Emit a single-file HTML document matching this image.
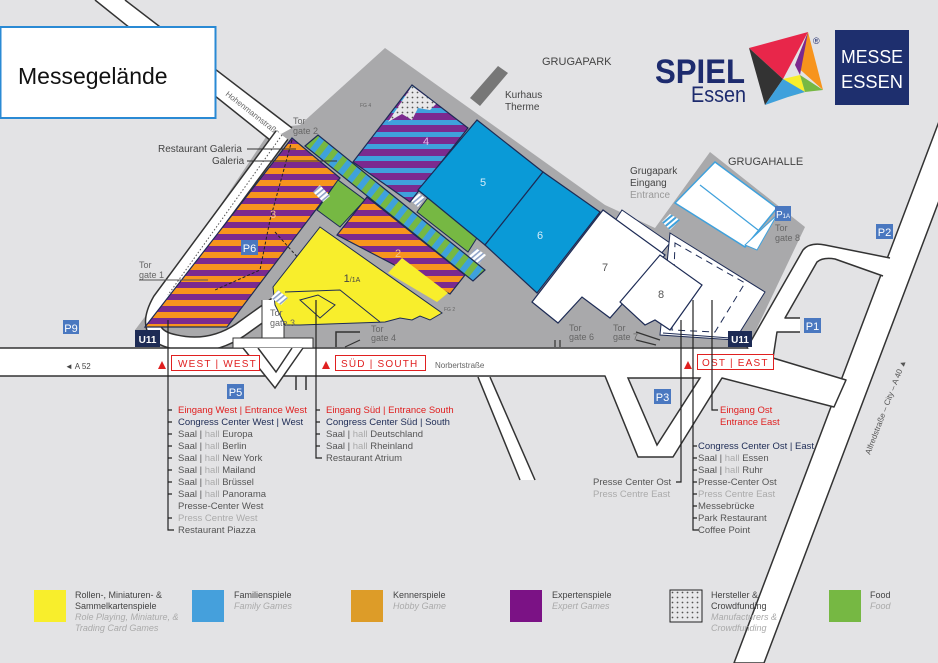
<!DOCTYPE html>
<html><head><meta charset="utf-8"><style>
html,body{margin:0;padding:0;background:#e3e3e5;}
svg{display:block;font-family:"Liberation Sans",sans-serif;}
</style></head><body>
<svg width="938" height="663" viewBox="0 0 938 663" xmlns="http://www.w3.org/2000/svg">
<defs>
<pattern id="op" width="10" height="12" patternUnits="userSpaceOnUse"><rect width="10" height="12" fill="#7b2a8f"/><rect width="10" height="6" fill="#f7941d"/></pattern>
<pattern id="pb" width="10" height="12" patternUnits="userSpaceOnUse"><rect width="10" height="12" fill="#7b2a8f"/><rect width="10" height="5" fill="#3fa1dc"/></pattern>
<pattern id="bg" width="10" height="12" patternUnits="userSpaceOnUse" patternTransform="rotate(-52)"><rect width="10" height="12" fill="#76b843"/><rect width="10" height="6" fill="#3fa1dc"/></pattern>
<pattern id="hatch" width="4" height="4" patternUnits="userSpaceOnUse" patternTransform="rotate(-40)"><rect width="4" height="4" fill="#fff"/><rect width="4" height="1.6" fill="#8fa3c8"/></pattern>
<pattern id="hatchb" width="4" height="4" patternUnits="userSpaceOnUse" patternTransform="rotate(-40)"><rect width="4" height="4" fill="#fff"/><rect width="4" height="2" fill="#3fa1dc"/></pattern>
<pattern id="dots" width="5" height="5" patternUnits="userSpaceOnUse"><rect width="5" height="5" fill="#e8e8ea"/><circle cx="2.5" cy="2.5" r="0.9" fill="#555"/></pattern>
</defs>
<rect width="938" height="663" fill="#e3e3e5"/>

<!-- gray site -->
<polygon points="272,128 300,125 385,48 605,205 655,228 710,152 805,227 748,347 135,347 135,330 150,310" fill="#a9a9ab"/>

<!-- Hohenmannstrasse -->
<polygon points="95,0 125,0 292,128 270,140" fill="#fff"/>
<line x1="95" y1="0" x2="270" y2="140" stroke="#333" stroke-width="1.5"/>
<line x1="125" y1="0" x2="292" y2="128" stroke="#333" stroke-width="1.5"/>
<text x="225" y="95" font-size="8" fill="#666" transform="rotate(38 225 95)">Hohenmannstraße</text>

<!-- loop road left of hall 3 -->
<path d="M282,135 L160,300 Q140,335 175,342 Q210,350 240,330 L282,300" fill="none" stroke="#333" stroke-width="16"/>
<path d="M282,135 L160,300 Q140,335 175,342 Q210,350 240,330 L282,300" fill="none" stroke="#fff" stroke-width="13"/>
<path d="M282,135 L168,295" fill="none" stroke="#555" stroke-width="1" stroke-dasharray="1.5,2"/>
<rect x="262" y="300" width="22" height="50" fill="#fff"/>
<line x1="262" y1="300" x2="262" y2="338" stroke="#333"/><line x1="284" y1="300" x2="284" y2="338" stroke="#333"/>

<!-- title box -->
<rect x="0.5" y="27" width="215" height="91" fill="#fff" stroke="#2a8ad4" stroke-width="2"/>
<text x="18" y="84" font-size="23" fill="#111">Messegelände</text>

<!-- halls -->
<polygon points="292,138 340,178 227,327 145,327" fill="url(#op)" stroke="#1d2b55" stroke-width="1.2"/>
<path d="M292,140 L270,220 L260,270 L215,290 M275,232 L300,260 L310,280 L285,300" fill="none" stroke="#222" stroke-width="1" stroke-dasharray="3,2"/>
<polygon points="305,146 318,135 485,270 473,281" fill="url(#bg)" stroke="#1d2b55" stroke-width="1.2"/>
<polygon points="317,210 338,180 365,200 340,227" fill="#76b843" stroke="#1d2b55"/>
<polygon points="417,212 430,195 480,233 468,252" fill="#76b843" stroke="#1d2b55"/>
<polygon points="337,235 367,197 465,275 450,294" fill="url(#op)" stroke="#1d2b55" stroke-width="1.2"/>
<polygon points="273,287 320,227 442,313 430,320 420,316 412,320 400,318 385,322 300,325 285,325 275,305" fill="#f8ee2c" stroke="#1d2b55" stroke-width="1"/>
<polygon points="388,273 402,258 448,293 437,302" fill="#f8ee2c"/>
<path d="M285,292 L340,290 L380,322 M300,300 L318,295 L335,305 L320,318 Z" fill="none" stroke="#1d2b55" stroke-width="1"/>
<polygon points="313,192 320,185 330,196 323,202" fill="url(#hatch)"/>
<polygon points="271,298 278,290 288,298 281,305" fill="url(#hatch)"/>
<polygon points="410,200 417,192 425,198 418,207" fill="url(#hatch)"/>
<polygon points="469,256 476,248 486,255 479,264" fill="url(#hatch)"/>
<polygon points="353,162 412,85 468,128 410,202" fill="url(#pb)" stroke="#1d2b55" stroke-width="1.2"/>
<polygon points="388,122 412,86 436,104 430,110 418,108 412,120 402,114" fill="url(#dots)"/>
<polygon points="418,190 477,120 543,172 485,245" fill="#0a9ad7" stroke="#1d2b55" stroke-width="1.2"/>
<polygon points="485,245 543,172 600,212 537,293" fill="#0a9ad7" stroke="#1d2b55" stroke-width="1.2"/>
<polygon points="622,210 670,243 660,255 613,224" fill="#fff" stroke="#1d2b55"/>
<polygon points="532,302 603,210 665,255 610,318 582,297 558,323" fill="#fff" stroke="#1d2b55" stroke-width="1.2"/>
<polygon points="670,233 765,292 735,340 660,335" fill="#fff" stroke="#1d2b55"/>
<polygon points="675,243 745,283 715,332 672,330" fill="none" stroke="#1d2b55" stroke-dasharray="7,5"/>
<polygon points="620,302 660,255 702,285 670,330 655,320 645,325" fill="#fff" stroke="#1d2b55" stroke-width="1.2"/>

<!-- grugahalle -->
<polygon points="675,203 700,182 745,247 720,230" fill="#fff"/>
<polygon points="675,203 715,162 777,208 745,247" fill="#fff" stroke="#3fa1dc" stroke-width="1.5"/>
<line x1="700" y1="185" x2="758" y2="230" stroke="#3fa1dc" stroke-width="1.2"/>
<polygon points="763,228 777,215 757,250 745,245" fill="#fff" stroke="#3fa1dc"/>
<polygon points="662,222 670,214 680,220 670,230" fill="url(#hatchb)"/>
<polygon points="470,98 498,66 508,73 480,106" fill="#777"/>

<!-- streets -->
<g stroke="#333" stroke-width="1.5" stroke-linejoin="round">
<!-- Alfredstrasse -->
<polygon points="985,0 1015,0 764,663 734,663" fill="#fff"/>
<!-- main street -->
<polygon points="-2,348 747,348 773,358 846,380 834,407 722,378 673,457 638,457 605,376 -2,376" fill="#fff"/>
<!-- NE road -->
<path d="M747,348 L803,250 Q810,242 825,245 L890,258 L883,276 L835,259 Q823,257 817,262 L785,318 L800,318 L800,332 L777,332 L773,358 Z" fill="#fff" stroke="none"/>
<path d="M747,348 L803,250 Q810,242 825,245 L890,258" fill="none"/>
<path d="M883,276 L835,259 Q823,257 817,262 L785,318 L800,318 M800,332 L777,332 L773,358" fill="none"/>
</g>
<rect x="700" y="349" width="70" height="26" fill="#fff"/>
<polygon points="628,378 700,378 657,445" fill="#e3e3e5" stroke="#333" stroke-width="1.5"/>
<polygon points="478,377 490,377 535,480 520,480" fill="#fff"/>
<line x1="478" y1="377" x2="520" y2="480" stroke="#333" stroke-width="1.5"/>
<line x1="490" y1="377" x2="535" y2="480" stroke="#333" stroke-width="1.5"/>
<!-- bridge -->
<rect x="233" y="338" width="80" height="10" fill="#fff" stroke="#333"/>
<path d="M243,348 L275,388 L303,348 M258,348 L276,372 L292,348" fill="#fff" stroke="#333" stroke-width="1.5"/>
<line x1="296" y1="376" x2="296" y2="390" stroke="#333" stroke-width="1.5"/><line x1="306" y1="376" x2="306" y2="390" stroke="#333" stroke-width="1.5"/>
<text x="870" y="455" font-size="8" fill="#555" transform="rotate(-69 870 455)">Alfredstraße – City – A 40 ▲</text>

<!-- gate marks -->
<path d="M336,347 L336,332 L360,332" fill="none" stroke="#333" stroke-width="1.5"/>
<path d="M345,347 L360,340" fill="none" stroke="#333" stroke-width="1.2"/>
<path d="M555,347 V340 M560,347 V340 M636,340 L656,345 M636,332 L660,340" stroke="#333" stroke-width="1.2"/>
<line x1="663" y1="333" x2="730" y2="338" stroke="#1d2b55"/>

<!-- P signs -->
<g font-size="11" fill="#fff" text-anchor="middle">
<rect x="63" y="320" width="16" height="14" fill="#4a78c0"/><text x="71" y="332">P9</text>
<rect x="241" y="240" width="17" height="15" fill="#4a78c0"/><text x="249.5" y="252">P6</text>
<rect x="227" y="384" width="17" height="15" fill="#4a78c0"/><text x="235.5" y="396">P5</text>
<rect x="804" y="318" width="17" height="15" fill="#4a78c0"/><text x="812.5" y="330">P1</text>
<rect x="876" y="224" width="17" height="15" fill="#4a78c0"/><text x="884.5" y="236">P2</text>
<rect x="654" y="389" width="17" height="15" fill="#4a78c0"/><text x="662.5" y="401">P3</text>
<rect x="775" y="206" width="16" height="15" fill="#4a78c0"/><text x="783" y="218" font-size="10">P<tspan font-size="6">1A</tspan></text>
<rect x="135" y="330" width="25" height="17" fill="#1d2b55"/><text x="147.5" y="343" font-size="10" font-weight="bold">U11</text>
<rect x="728" y="331" width="24" height="16" fill="#1d2b55"/><text x="740" y="343" font-size="10" font-weight="bold">U11</text>
</g>

<!-- hall numbers -->
<g font-size="11" fill="#f5c590" text-anchor="middle">
<text x="273" y="218">3</text><text x="398" y="257">2</text><text x="426" y="145" fill="#eab9ee">4</text>
<text x="483" y="186" fill="#d6ecf8">5</text><text x="540" y="239" fill="#d6ecf8">6</text>
<text x="605" y="271" fill="#555">7</text><text x="661" y="298" fill="#555">8</text>
<text x="352" y="282" fill="#444">1<tspan font-size="7">/1A</tspan></text>
</g>

<!-- labels -->
<g font-size="10" fill="#444">
<text x="158" y="152">Restaurant Galeria</text><text x="212" y="164">Galeria</text>
<line x1="247" y1="149" x2="296" y2="149" stroke="#333"/><line x1="247" y1="161" x2="337" y2="161" stroke="#333"/>
<text x="139" y="268" fill="#666" font-size="9">Tor</text><text x="139" y="278" fill="#666" font-size="9">gate 1</text>
<line x1="139" y1="280" x2="208" y2="280" stroke="#555"/>
<text x="293" y="124" fill="#666" font-size="9">Tor</text><text x="293" y="134" fill="#666" font-size="9">gate 2</text>
<text x="270" y="316" fill="#666" font-size="9">Tor</text><text x="270" y="326" fill="#666" font-size="9">gate 3</text>
<text x="371" y="332" fill="#666" font-size="9">Tor</text><text x="371" y="341" fill="#666" font-size="9">gate 4</text>
<text x="569" y="331" fill="#666" font-size="9">Tor</text><text x="569" y="340" fill="#666" font-size="9">gate 6</text>
<text x="613" y="331" fill="#666" font-size="9">Tor</text><text x="613" y="340" fill="#666" font-size="9">gate 7</text>
<text x="775" y="231" fill="#666" font-size="9">Tor</text><text x="775" y="241" fill="#666" font-size="9">gate 8</text>
<text x="360" y="107" font-size="5" fill="#666">FG 4</text><text x="444" y="311" font-size="5" fill="#666">FG 2</text>
<text x="542" y="65" font-size="11">GRUGAPARK</text>
<text x="505" y="98">Kurhaus</text><text x="505" y="110">Therme</text>
<text x="630" y="174">Grugapark</text><text x="630" y="186">Eingang</text><text x="630" y="198" fill="#999">Entrance</text>
<text x="728" y="165" font-size="11">GRUGAHALLE</text>
<text x="65" y="369" font-size="8">◄ A 52</text>
<text x="435" y="368" font-size="8" fill="#666">Norbertstraße</text>
</g>

<!-- entrance boxes -->
<g font-size="10" fill="#e02020" letter-spacing="1.2">
<polygon points="158,369 162,361 166,369" fill="#e02020"/>
<rect x="171.5" y="355.5" width="88" height="15" fill="#fff" stroke="#e02020"/><text x="178" y="367">WEST | WEST</text>
<polygon points="322,369 326,361 330,369" fill="#e02020"/>
<rect x="335.5" y="355.5" width="90" height="15" fill="#fff" stroke="#e02020"/><text x="341" y="367">SÜD | SOUTH</text>
<polygon points="684,369 688,361 692,369" fill="#e02020"/>
<rect x="697.5" y="354.5" width="76" height="15" fill="#fff" stroke="#e02020"/><text x="702" y="366">OST | EAST</text>
</g>

<!-- leaders -->
<g stroke="#222" stroke-width="1.2" fill="none">
<path d="M168,320 V530 H174"/>
<path d="M168,410h4M168,422h4M168,434h4M168,446h4M168,458h4M168,470h4M168,482h4M168,494h4M168,518h4"/>
<path d="M316,300 V458 H322 M316,410h4M316,422h4M316,434h4M316,446h4"/>
<path d="M693,300 V530 H699 M693,446h4M693,458h4M693,470h4M693,482h4M693,494h4M693,506h4M693,518h4"/>
<path d="M681,320 V482 H676"/>
<path d="M712,300 V410 H718"/>
</g>
<g font-size="9.5" fill="#555">
<text x="178" y="413" fill="#e02020">Eingang West | Entrance West</text>
<text x="178" y="425" fill="#1d2b55">Congress Center West | West</text>
<text x="178" y="437">Saal | <tspan fill="#aaa">hall</tspan> Europa</text>
<text x="178" y="449">Saal | <tspan fill="#aaa">hall</tspan> Berlin</text>
<text x="178" y="461">Saal | <tspan fill="#aaa">hall</tspan> New York</text>
<text x="178" y="473">Saal | <tspan fill="#aaa">hall</tspan> Mailand</text>
<text x="178" y="485">Saal | <tspan fill="#aaa">hall</tspan> Brüssel</text>
<text x="178" y="497">Saal | <tspan fill="#aaa">hall</tspan> Panorama</text>
<text x="178" y="509">Presse-Center West</text>
<text x="178" y="521" fill="#aaa">Press Centre West</text>
<text x="178" y="533">Restaurant Piazza</text>
<text x="326" y="413" fill="#e02020">Eingang Süd | Entrance South</text>
<text x="326" y="425" fill="#1d2b55">Congress Center Süd | South</text>
<text x="326" y="437">Saal | <tspan fill="#aaa">hall</tspan> Deutschland</text>
<text x="326" y="449">Saal | <tspan fill="#aaa">hall</tspan> Rheinland</text>
<text x="326" y="461">Restaurant Atrium</text>
<text x="720" y="413" fill="#e02020">Eingang Ost</text>
<text x="720" y="425" fill="#e02020">Entrance East</text>
<text x="698" y="449" fill="#1d2b55">Congress Center Ost | East</text>
<text x="698" y="461">Saal | <tspan fill="#aaa">hall</tspan> Essen</text>
<text x="698" y="473">Saal | <tspan fill="#aaa">hall</tspan> Ruhr</text>
<text x="698" y="485">Presse-Center Ost</text>
<text x="698" y="497" fill="#aaa">Press Centre East</text>
<text x="698" y="509">Messebrücke</text>
<text x="698" y="521">Park Restaurant</text>
<text x="698" y="533">Coffee Point</text>
<text x="593" y="485">Presse Center Ost</text>
<text x="593" y="497" fill="#aaa">Press Centre East</text>
</g>

<!-- logo -->
<text x="655" y="83" font-size="34" font-weight="bold" fill="#1d2b6e" textLength="90" lengthAdjust="spacingAndGlyphs">SPIEL</text>
<text x="691" y="102" font-size="22" fill="#1d2b6e" textLength="55" lengthAdjust="spacingAndGlyphs">Essen</text>
<polygon points="749,48 808,32 783,79" fill="#e8264a"/>
<polygon points="749,48 783,79 765,105" fill="#333"/>
<polygon points="808,32 823,90 795,65" fill="#f7941d"/>
<polygon points="795,65 808,32 800,75" fill="#7b2a8f"/>
<polygon points="783,79 800,75 805,92 788,97" fill="#f8ee2c"/>
<polygon points="800,75 823,90 805,92" fill="#76b843"/>
<polygon points="765,105 788,97 805,92 783,79" fill="#3fa1dc"/>
<text x="813" y="44" font-size="9" fill="#1d2b6e">®</text>
<rect x="835" y="30" width="74" height="75" fill="#1e2f6e"/>
<text x="872" y="63" font-size="18" fill="#fff" text-anchor="middle" textLength="62" lengthAdjust="spacingAndGlyphs">MESSE</text>
<text x="872" y="88" font-size="18" fill="#fff" text-anchor="middle" textLength="62" lengthAdjust="spacingAndGlyphs">ESSEN</text>

<!-- legend -->
<rect x="34" y="590" width="32" height="32" fill="#f8ee2c"/>
<rect x="192" y="590" width="32" height="32" fill="#45a0dc"/>
<rect x="351" y="590" width="32" height="32" fill="#dd9c28"/>
<rect x="510" y="590" width="32" height="32" fill="#7b1285"/>
<rect x="670" y="590" width="32" height="32" fill="url(#dots)" stroke="#222"/>
<rect x="829" y="590" width="32" height="32" fill="#76b843"/>
<g font-size="9" fill="#444">
<text x="75" y="598">Rollen-, Miniaturen- &amp;</text><text x="75" y="609">Sammelkartenspiele</text>
<text x="75" y="620" fill="#aaa" font-style="italic">Role Playing, Miniature, &amp;</text><text x="75" y="631" fill="#aaa" font-style="italic">Trading Card Games</text>
<text x="234" y="598">Familienspiele</text><text x="234" y="609" fill="#aaa" font-style="italic">Family Games</text>
<text x="393" y="598">Kennerspiele</text><text x="393" y="609" fill="#aaa" font-style="italic">Hobby Game</text>
<text x="552" y="598">Expertenspiele</text><text x="552" y="609" fill="#aaa" font-style="italic">Expert Games</text>
<text x="711" y="598">Hersteller &amp;</text><text x="711" y="609">Crowdfunding</text>
<text x="711" y="620" fill="#aaa" font-style="italic">Manufacturers &amp;</text><text x="711" y="631" fill="#aaa" font-style="italic">Crowdfunding</text>
<text x="870" y="598">Food</text><text x="870" y="609" fill="#aaa" font-style="italic">Food</text>
</g>
</svg>
</body></html>
